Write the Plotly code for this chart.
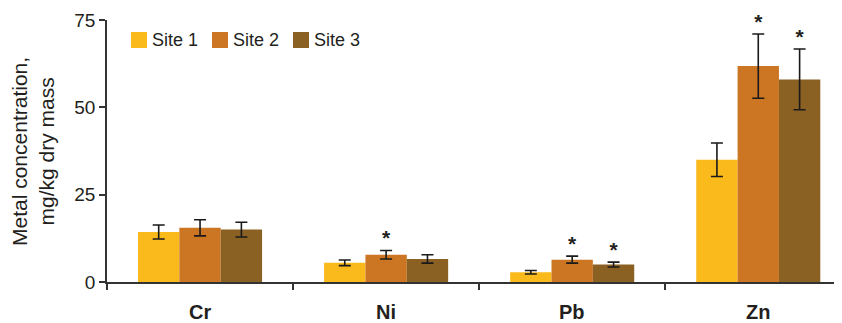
import plotly.graph_objects as go

metals = ["Cr", "Ni", "Pb", "Zn"]
sites = ["Site 1", "Site 2", "Site 3"]
values = {
    "Site 1": [14.3, 5.5, 2.8, 35.0],
    "Site 2": [15.5, 7.8, 6.4, 61.8],
    "Site 3": [15.0, 6.6, 5.0, 58.0],
}
errors = {
    "Site 1": [2.0, 0.8, 0.5, 4.8],
    "Site 2": [2.3, 1.2, 1.0, 9.2],
    "Site 3": [2.1, 1.2, 0.7, 8.7],
}
significant = {
    "Site 1": [False, False, False, False],
    "Site 2": [False, True, True, True],
    "Site 3": [False, False, True, True],
}
colors = {"Site 1": "#FBBA1B", "Site 2": "#CC7522", "Site 3": "#8A6023"}
yticks = [0, 25, 50, 75]

# page body has an 8px default margin, so the figure is sized/offset accordingly
OFF = 8
SCR_W, SCR_H = 842, 323
PL, PT, PB = 107, 20, 282          # plot area edges in window pixels
W, H = SCR_W - OFF, SCR_H - OFF
L, T = PL - OFF, PT - OFF
B = H - (PB - OFF)
R = 0
PW, PH = W - L - R, H - T - B
FONT = "Liberation Sans"
txt = "#231F20"

def px_x(p):
    return (p - PL) / PW

def px_y(p):
    return (PB - p) / PH

fig = go.Figure()
xpos = list(range(len(metals)))
for s in sites:
    fig.add_trace(go.Bar(
        x=xpos, y=values[s], name=s, marker_color=colors[s], marker_line_width=0,
        offsetgroup=s, showlegend=False,
        error_y=dict(type="data", array=errors[s], color="#1a1a1a", thickness=1.6, width=6),
    ))

# significance asterisks
group_w = 2 / 3
bw = group_w / 3
for i, s in enumerate(sites):
    xs, ys = [], []
    for j, m in enumerate(metals):
        if significant[s][j]:
            xs.append(j - group_w / 2 + bw * (i + 0.5))
            ys.append(values[s][j] + errors[s][j])
    if xs:
        fig.add_trace(go.Scatter(
            x=xs, y=ys, mode="text", text=["<b>*</b>"] * len(xs), textposition="top center",
            textfont=dict(size=21, color=txt, family=FONT),
            showlegend=False, hoverinfo="skip", cliponaxis=False,
        ))

# category labels
for j, m in enumerate(metals):
    fig.add_annotation(x=j, y=0, yref="y", yshift=-30, text="<b>%s</b>" % m, showarrow=False,
                       yanchor="middle", font=dict(size=20, color=txt, family=FONT))

# legend (drawn manually to match swatch size/spacing)
leg_x = [131, 212, 293]
for s, lx in zip(sites, leg_x):
    fig.add_shape(type="rect", xref="paper", yref="paper",
                  x0=px_x(lx), x1=px_x(lx + 16), y0=px_y(48), y1=px_y(32),
                  fillcolor=colors[s], line_width=0)
    fig.add_annotation(xref="paper", yref="paper", x=px_x(lx + 19), y=px_y(40),
                       xanchor="left", yanchor="middle", text=s, showarrow=False,
                       font=dict(size=18, color=txt, family=FONT))

# y-axis title
fig.add_annotation(xref="paper", yref="paper", x=px_x(33), y=px_y(152),
                   xanchor="center", yanchor="middle", textangle=-90, showarrow=False,
                   text="Metal concentration,<br>mg/kg dry mass",
                   font=dict(size=21, color=txt, family=FONT))

fig.update_layout(
    width=W, height=H,
    margin=dict(l=L, r=R, t=T, b=B, autoexpand=False),
    plot_bgcolor="white", paper_bgcolor="white",
    barmode="group", bargap=1 / 3, bargroupgap=0,
    font=dict(family=FONT, color=txt, size=16),
    showlegend=False,
    xaxis=dict(range=[-0.5, 3.45], tickmode="array", tickvals=[-0.5, 0.5, 1.5, 2.5],
               ticktext=["", "", "", ""], ticks="outside", ticklen=6, tickwidth=1.5,
               tickcolor="#333", showline=True, linecolor="#333", linewidth=1.5,
               showgrid=False, zeroline=False, automargin=False),
    yaxis=dict(range=[0, 75], tickvals=yticks, ticks="outside", ticklen=6, tickwidth=1.5,
               tickcolor="#333", showline=True, linecolor="#333", linewidth=1.5,
               showgrid=False, zeroline=False, automargin=False,
               tickfont=dict(size=19, color=txt)),
)

fig.write_html("out.html")
